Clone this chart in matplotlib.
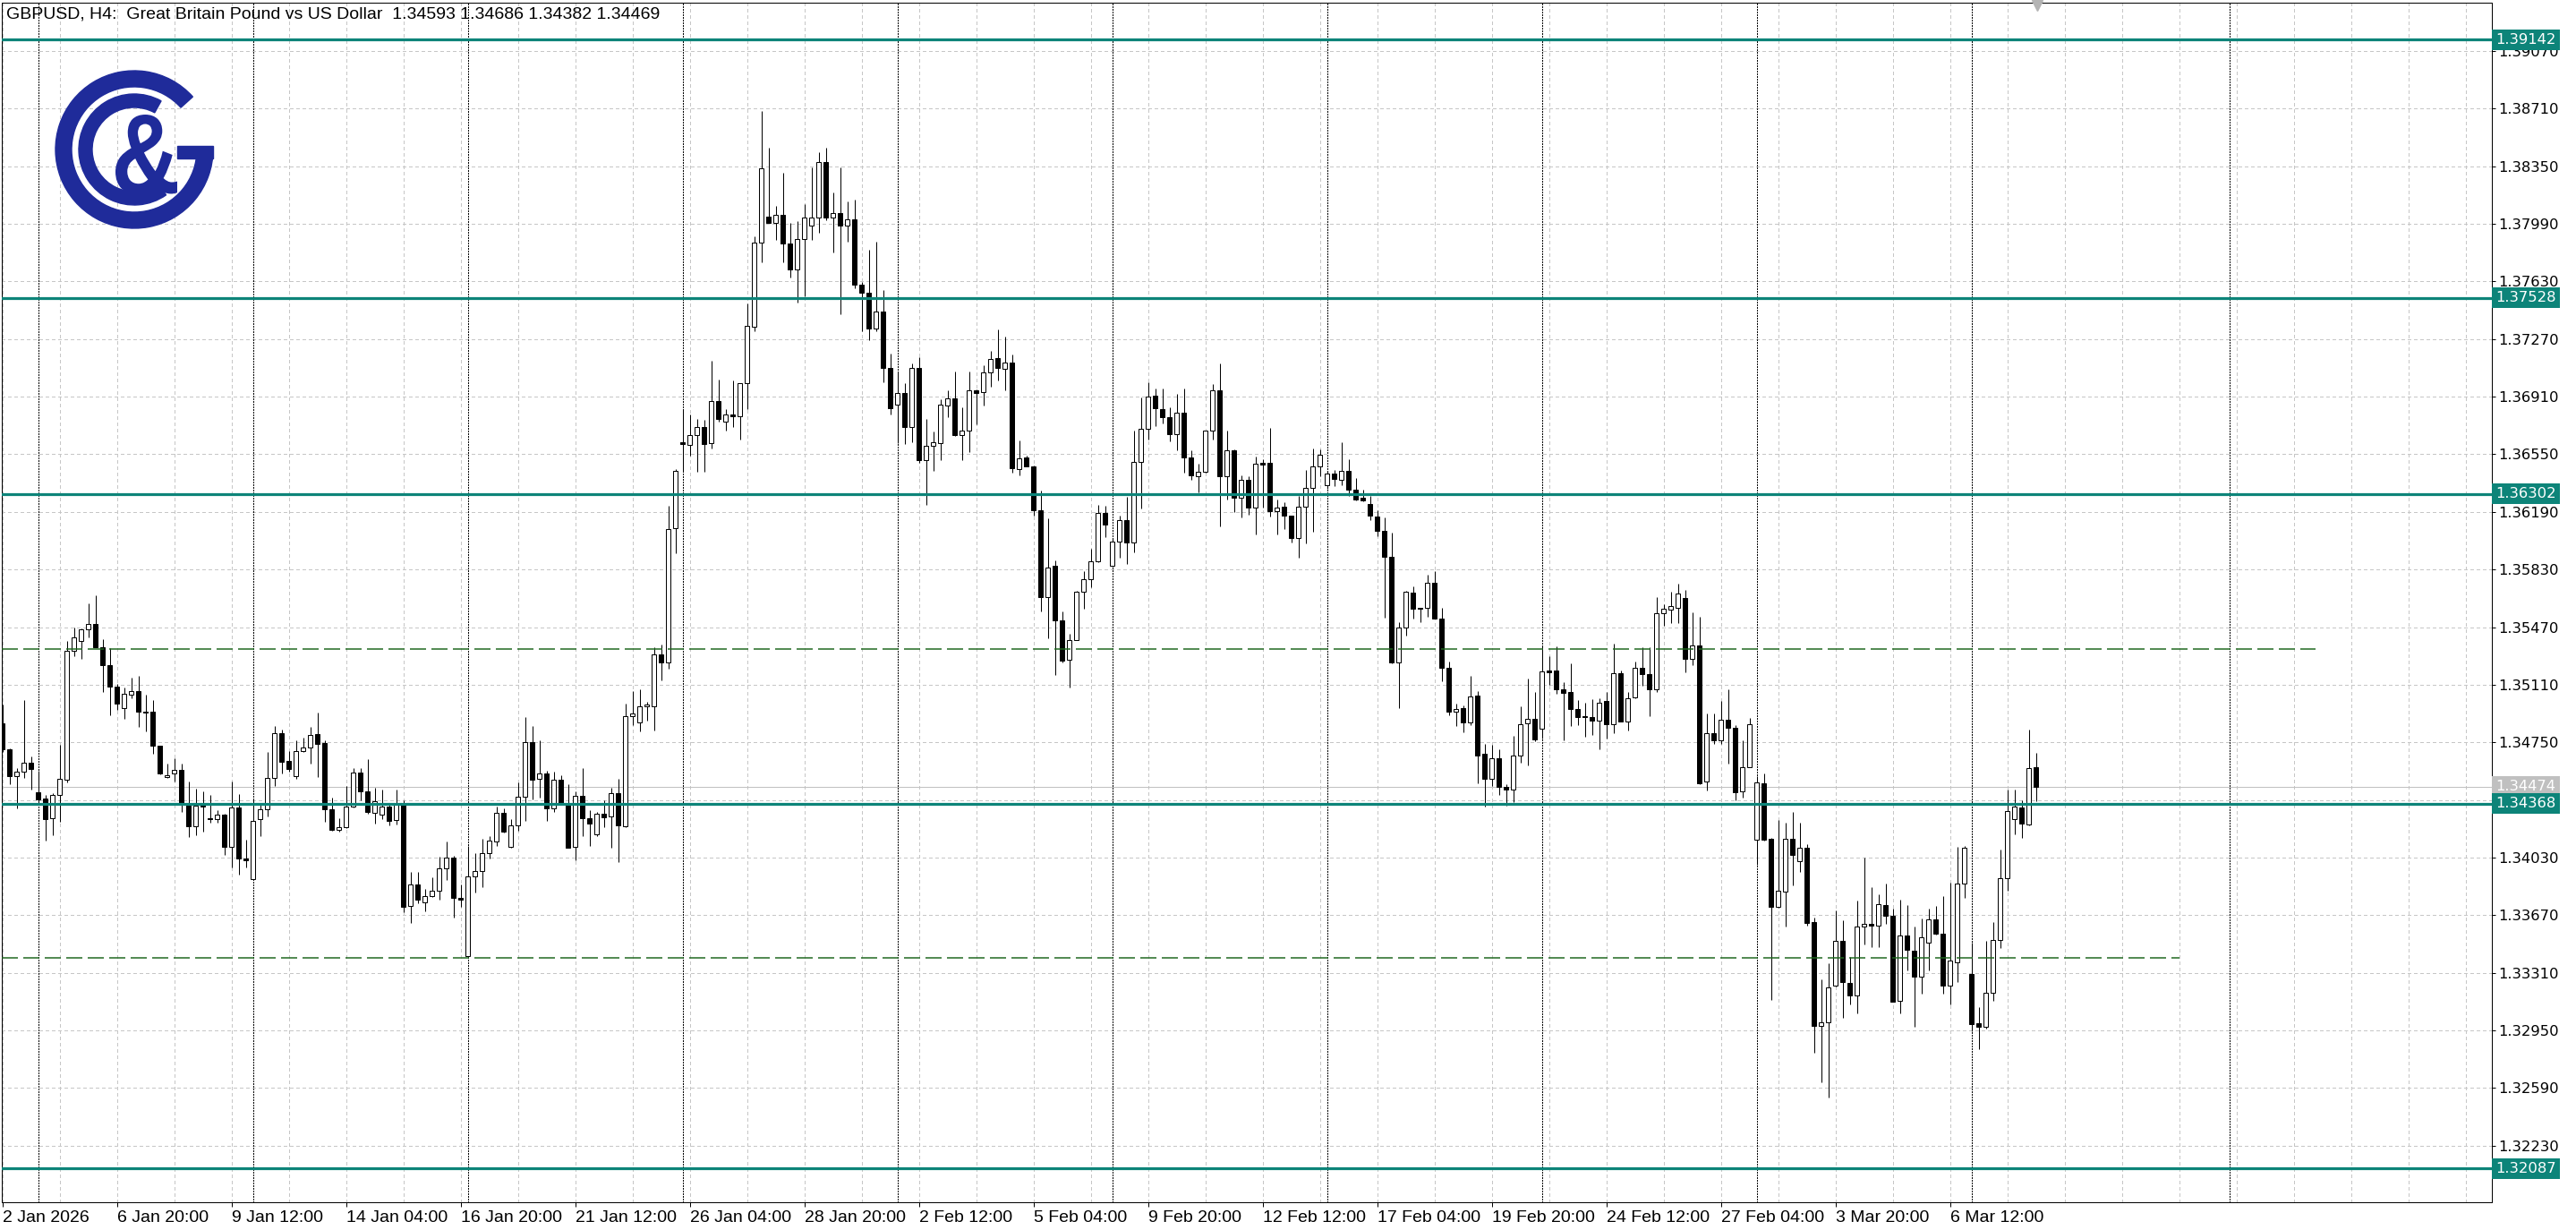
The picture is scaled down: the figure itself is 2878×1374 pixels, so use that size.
import numpy as np
import matplotlib
matplotlib.use("Agg")
import matplotlib.pyplot as plt
from matplotlib.patches import Wedge, Rectangle, PathPatch
from matplotlib.textpath import TextPath
from matplotlib.font_manager import FontProperties
from matplotlib.transforms import Affine2D

plt.rcParams["lines.scale_dashes"] = False

W, H = 2878, 1374

title_text = "GBPUSD, H4:  Great Britain Pound vs US Dollar  1.34593 1.34686 1.34382 1.34469"

# ---- H4 candles, 2 Jan 2026 04:00 ... 10 Mar 2026 12:00 ----
opens = [
 1.34867, 1.34705, 1.34541, 1.34565, 1.34623,
 1.34438, 1.34397, 1.34274, 1.34420, 1.34518, 1.35320, 1.35386, 1.35455, 1.35488, 1.35346,
 1.35231, 1.35097, 1.34964, 1.35050, 1.35072, 1.34942, 1.34940, 1.34727, 1.34535, 1.34554,
 1.34578, 1.34373, 1.34224, 1.34358, 1.34276, 1.34272, 1.34296, 1.34097, 1.34345, 1.34024,
 1.33897, 1.34269, 1.34330, 1.34530, 1.34806, 1.34634, 1.34537, 1.34694, 1.34716, 1.34800,
 1.34746, 1.34330, 1.34203, 1.34218, 1.34347, 1.34561, 1.34443, 1.34308, 1.34299, 1.34351,
 1.34265, 1.34364, 1.33725, 1.33864, 1.33751, 1.33789, 1.33821, 1.33965, 1.34029, 1.33776,
 1.33414, 1.33914, 1.33946, 1.34057, 1.34132, 1.34310, 1.34096, 1.34233, 1.34411, 1.34750,
 1.34522, 1.34557, 1.34336, 1.34518, 1.34368, 1.34096, 1.34415, 1.34278, 1.34175, 1.34304,
 1.34287, 1.34432, 1.34224, 1.34915, 1.34876, 1.34973, 1.34973, 1.35301, 1.35250, 1.36090,
 1.36628, 1.36606, 1.36668, 1.36723, 1.36618, 1.36885, 1.36753, 1.36798, 1.36788, 1.36992,
 1.37349, 1.37872, 1.38034, 1.37997, 1.38044, 1.37870, 1.37703, 1.37895, 1.37977, 1.38032,
 1.38376, 1.38032, 1.38059, 1.37977, 1.38019, 1.37610, 1.37558, 1.37336, 1.37441, 1.37092,
 1.36860, 1.36935, 1.36718, 1.37087, 1.36514, 1.36601, 1.36618, 1.36855, 1.36897, 1.36668,
 1.36700, 1.36952, 1.36937, 1.37062, 1.37152, 1.37082, 1.37125, 1.36457, 1.36528, 1.36476,
 1.36200, 1.35655, 1.35851, 1.35510, 1.35267, 1.35390, 1.35692, 1.35767, 1.35884, 1.36183,
 1.35855, 1.36006, 1.36137, 1.36000, 1.36504, 1.36712, 1.36918, 1.36835, 1.36780, 1.36677,
 1.36808, 1.36532, 1.36410, 1.36438, 1.36696, 1.36951, 1.36414, 1.36575, 1.36276, 1.36392,
 1.36215, 1.36494, 1.36494, 1.36192, 1.36220, 1.36164, 1.36028, 1.36220, 1.36341, 1.36476,
 1.36356, 1.36429, 1.36391, 1.36445, 1.36330, 1.36276, 1.36237, 1.36162, 1.36074, 1.35910,
 1.35248, 1.35468, 1.35686, 1.35591, 1.35588, 1.35746, 1.35524, 1.35216, 1.34944, 1.34965,
 1.34875, 1.35043, 1.34676, 1.34521, 1.34651, 1.34474, 1.34456, 1.34670, 1.34870, 1.34898,
 1.34838, 1.35198, 1.35198, 1.35080, 1.35062, 1.34959, 1.34911, 1.34909, 1.34888, 1.35006,
 1.34866, 1.35183, 1.34881, 1.35030, 1.35216, 1.35179, 1.35080, 1.35556, 1.35580, 1.35590,
 1.35650, 1.35269, 1.35355, 1.34506, 1.34810, 1.34760, 1.34890, 1.34842, 1.34442, 1.34596,
 1.34142, 1.34496, 1.34146, 1.33723, 1.33817, 1.34146, 1.34010, 1.34090, 1.33627, 1.32977,
 1.33003, 1.33227, 1.33511, 1.33247, 1.33171, 1.33597, 1.33617, 1.33603, 1.33731, 1.33667,
 1.33137, 1.33543, 1.33447, 1.33287, 1.33497, 1.33643, 1.33557, 1.33231, 1.33377, 1.33867,
 1.33303, 1.32997, 1.32971, 1.33183, 1.33517, 1.33903, 1.34270, 1.34342, 1.34236, 1.34593,
]
highs = [
 1.34988, 1.34712, 1.34587, 1.35016, 1.34662,
 1.34572, 1.34420, 1.34433, 1.34733, 1.35384, 1.35468, 1.35464, 1.35619, 1.35669, 1.35395,
 1.35339, 1.35115, 1.35091, 1.35156, 1.35166, 1.35048, 1.35013, 1.34731, 1.34615, 1.34649,
 1.34615, 1.34504, 1.34462, 1.34444, 1.34420, 1.34326, 1.34302, 1.34504, 1.34429, 1.34140,
 1.34392, 1.34358, 1.34690, 1.34852, 1.34830, 1.34694, 1.34761, 1.34780, 1.34847, 1.34936,
 1.34765, 1.34407, 1.34278, 1.34475, 1.34587, 1.34587, 1.34643, 1.34465, 1.34454, 1.34358,
 1.34454, 1.34390, 1.33939, 1.33939, 1.33832, 1.33907, 1.34036, 1.34128, 1.34042, 1.33864,
 1.34100, 1.34057, 1.34149, 1.34165, 1.34347, 1.34336, 1.34272, 1.34497, 1.34908, 1.34850,
 1.34765, 1.34572, 1.34565, 1.34544, 1.34486, 1.34443, 1.34587, 1.34325, 1.34315, 1.34390,
 1.34465, 1.34522, 1.34990, 1.35071, 1.35080, 1.35001, 1.35344, 1.35361, 1.36230, 1.36456,
 1.36830, 1.36798, 1.36773, 1.36763, 1.37134, 1.37017, 1.36830, 1.37012, 1.36997, 1.37491,
 1.37910, 1.38695, 1.38468, 1.38102, 1.38308, 1.37997, 1.38007, 1.38114, 1.38343, 1.38438,
 1.38468, 1.38184, 1.38343, 1.38131, 1.38144, 1.37628, 1.37827, 1.37877, 1.37578, 1.37179,
 1.37067, 1.36997, 1.37117, 1.37154, 1.36773, 1.36693, 1.36892, 1.36947, 1.37067, 1.36842,
 1.37067, 1.36955, 1.37104, 1.37196, 1.37329, 1.37283, 1.37171, 1.36634, 1.36541, 1.36481,
 1.36321, 1.36149, 1.35888, 1.35566, 1.35426, 1.35698, 1.35819, 1.35957, 1.36233, 1.36228,
 1.36028, 1.36164, 1.36283, 1.36696, 1.36905, 1.36998, 1.36960, 1.36960, 1.36843, 1.36927,
 1.36960, 1.36574, 1.36489, 1.36699, 1.36988, 1.37119, 1.36696, 1.36578, 1.36420, 1.36414,
 1.36537, 1.36518, 1.36714, 1.36265, 1.36248, 1.36168, 1.36289, 1.36451, 1.36587, 1.36578,
 1.36448, 1.36451, 1.36623, 1.36520, 1.36404, 1.36330, 1.36292, 1.36199, 1.36153, 1.36063,
 1.35500, 1.35696, 1.35727, 1.35593, 1.35795, 1.35821, 1.35589, 1.35257, 1.34993, 1.34978,
 1.35168, 1.35071, 1.34739, 1.34732, 1.34707, 1.34489, 1.34791, 1.34974, 1.35149, 1.35067,
 1.35351, 1.35289, 1.35351, 1.35127, 1.35243, 1.35015, 1.35000, 1.35019, 1.35024, 1.35067,
 1.35369, 1.35198, 1.35067, 1.35252, 1.35347, 1.35347, 1.35658, 1.35612, 1.35690, 1.35740,
 1.35700, 1.35565, 1.35535, 1.34930, 1.34930, 1.35006, 1.35080, 1.34856, 1.34762, 1.34902,
 1.34536, 1.34556, 1.34150, 1.34262, 1.34250, 1.34316, 1.34250, 1.34116, 1.33657, 1.33271,
 1.33371, 1.33697, 1.33637, 1.33407, 1.33763, 1.34031, 1.33847, 1.33801, 1.33867, 1.33711,
 1.33767, 1.33731, 1.33597, 1.33651, 1.33711, 1.33727, 1.33791, 1.33871, 1.34097, 1.34103,
 1.33497, 1.33097, 1.33507, 1.33627, 1.34082, 1.34456, 1.34456, 1.34386, 1.34830, 1.34686,
]
lows = [
 1.34690, 1.34489, 1.34336, 1.34526, 1.34457,
 1.34373, 1.34136, 1.34172, 1.34252, 1.34500, 1.35287, 1.35272, 1.35408, 1.35343, 1.35063,
 1.34918, 1.34951, 1.34899, 1.35026, 1.34849, 1.34817, 1.34681, 1.34550, 1.34526, 1.34504,
 1.34317, 1.34157, 1.34172, 1.34194, 1.34246, 1.34246, 1.34049, 1.33970, 1.33922, 1.33966,
 1.33892, 1.34164, 1.34289, 1.34479, 1.34554, 1.34569, 1.34522, 1.34690, 1.34619, 1.34535,
 1.34252, 1.34198, 1.34193, 1.34214, 1.34342, 1.34389, 1.34304, 1.34244, 1.34272, 1.34229,
 1.34235, 1.33687, 1.33622, 1.33746, 1.33693, 1.33785, 1.33768, 1.33892, 1.33656, 1.33721,
 1.33403, 1.33811, 1.33843, 1.34025, 1.34100, 1.34186, 1.34089, 1.34197, 1.34257, 1.34394,
 1.34407, 1.34257, 1.34315, 1.34357, 1.34089, 1.34014, 1.34165, 1.34100, 1.34165, 1.34222,
 1.34094, 1.34004, 1.34218, 1.34857, 1.34818, 1.34883, 1.34823, 1.35140, 1.35210, 1.35933,
 1.36444, 1.36543, 1.36439, 1.36439, 1.36588, 1.36755, 1.36698, 1.36723, 1.36643, 1.36830,
 1.37321, 1.37747, 1.37994, 1.37890, 1.37752, 1.37653, 1.37498, 1.37536, 1.37890, 1.37935,
 1.38010, 1.37810, 1.37428, 1.37877, 1.37590, 1.37321, 1.37261, 1.37321, 1.37000, 1.36798,
 1.36618, 1.36613, 1.36623, 1.36494, 1.36236, 1.36444, 1.36514, 1.36780, 1.36663, 1.36514,
 1.36563, 1.36738, 1.36855, 1.36972, 1.37012, 1.36947, 1.36433, 1.36420, 1.36472, 1.36164,
 1.35566, 1.35403, 1.35170, 1.35250, 1.35090, 1.35388, 1.35586, 1.35717, 1.35873, 1.36034,
 1.35847, 1.35903, 1.35866, 1.35935, 1.36211, 1.36644, 1.36724, 1.36742, 1.36630, 1.36574,
 1.36435, 1.36388, 1.36313, 1.36435, 1.36644, 1.36097, 1.36265, 1.36190, 1.36153, 1.36172,
 1.36047, 1.36215, 1.36159, 1.36047, 1.36080, 1.36000, 1.35903, 1.35991, 1.36065, 1.36410,
 1.36336, 1.36354, 1.36358, 1.36292, 1.36261, 1.36255, 1.36138, 1.36037, 1.35528, 1.35244,
 1.34963, 1.35416, 1.35522, 1.35500, 1.35537, 1.35522, 1.35131, 1.34918, 1.34851, 1.34814,
 1.34857, 1.34493, 1.34347, 1.34478, 1.34422, 1.34353, 1.34377, 1.34624, 1.34608, 1.34758,
 1.34773, 1.35108, 1.35056, 1.34763, 1.34851, 1.34857, 1.34787, 1.34795, 1.34707, 1.34773,
 1.34806, 1.34879, 1.34825, 1.35024, 1.35105, 1.34912, 1.35067, 1.35481, 1.35495, 1.35495,
 1.35185, 1.35235, 1.34486, 1.34450, 1.34742, 1.34742, 1.34616, 1.34390, 1.34406, 1.34592,
 1.33987, 1.34138, 1.33143, 1.33717, 1.33597, 1.33857, 1.33942, 1.33607, 1.32812, 1.32624,
 1.32528, 1.33223, 1.33031, 1.33111, 1.33057, 1.33487, 1.33471, 1.33471, 1.33617, 1.33127,
 1.33057, 1.33323, 1.32971, 1.33177, 1.33323, 1.33551, 1.33177, 1.33111, 1.33251, 1.33777,
 1.32947, 1.32832, 1.32963, 1.33137, 1.33463, 1.33823, 1.34176, 1.34150, 1.34230, 1.34382,
]
closes = [
 1.34709, 1.34541, 1.34567, 1.34623, 1.34582,
 1.34395, 1.34272, 1.34420, 1.34522, 1.35320, 1.35406, 1.35455, 1.35488, 1.35346, 1.35231,
 1.35097, 1.34992, 1.35054, 1.35072, 1.34940, 1.34938, 1.34727, 1.34554, 1.34546, 1.34578,
 1.34369, 1.34224, 1.34354, 1.34351, 1.34272, 1.34296, 1.34097, 1.34345, 1.34022, 1.34011,
 1.34261, 1.34330, 1.34530, 1.34809, 1.34630, 1.34584, 1.34694, 1.34718, 1.34798, 1.34742,
 1.34330, 1.34201, 1.34222, 1.34351, 1.34561, 1.34443, 1.34315, 1.34383, 1.34351, 1.34261,
 1.34368, 1.33721, 1.33864, 1.33768, 1.33789, 1.33821, 1.33965, 1.34029, 1.33779, 1.33764,
 1.33914, 1.33944, 1.34057, 1.34137, 1.34310, 1.34192, 1.34233, 1.34411, 1.34750, 1.34518,
 1.34557, 1.34336, 1.34518, 1.34368, 1.34094, 1.34415, 1.34276, 1.34244, 1.34304, 1.34282,
 1.34432, 1.34229, 1.34915, 1.34930, 1.34973, 1.34986, 1.35297, 1.35248, 1.36085, 1.36444,
 1.36613, 1.36668, 1.36718, 1.36613, 1.36880, 1.36768, 1.36798, 1.36788, 1.36992, 1.37354,
 1.37872, 1.38338, 1.37997, 1.38044, 1.37870, 1.37703, 1.37895, 1.38027, 1.38032, 1.38376,
 1.38027, 1.38059, 1.37977, 1.38019, 1.37610, 1.37558, 1.37336, 1.37441, 1.37092, 1.36837,
 1.36935, 1.36718, 1.37092, 1.36514, 1.36601, 1.36626, 1.36862, 1.36897, 1.36668, 1.36700,
 1.36950, 1.36935, 1.37062, 1.37147, 1.37087, 1.37125, 1.36463, 1.36522, 1.36476, 1.36200,
 1.35655, 1.35841, 1.35510, 1.35263, 1.35390, 1.35689, 1.35767, 1.35884, 1.36183, 1.36108,
 1.36006, 1.36137, 1.36000, 1.36504, 1.36712, 1.36908, 1.36839, 1.36780, 1.36677, 1.36808,
 1.36532, 1.36420, 1.36438, 1.36696, 1.36951, 1.36414, 1.36573, 1.36276, 1.36392, 1.36215,
 1.36489, 1.36487, 1.36192, 1.36215, 1.36164, 1.36028, 1.36220, 1.36341, 1.36476, 1.36545,
 1.36429, 1.36395, 1.36445, 1.36330, 1.36268, 1.36261, 1.36168, 1.36074, 1.35910, 1.35248,
 1.35468, 1.35690, 1.35584, 1.35586, 1.35746, 1.35524, 1.35216, 1.34944, 1.34959, 1.34875,
 1.35037, 1.34670, 1.34521, 1.34651, 1.34474, 1.34456, 1.34670, 1.34866, 1.34898, 1.34767,
 1.35192, 1.35190, 1.35080, 1.35058, 1.34959, 1.34909, 1.34907, 1.34888, 1.35000, 1.34866,
 1.35183, 1.34881, 1.35024, 1.35216, 1.35179, 1.35080, 1.35556, 1.35584, 1.35600, 1.35680,
 1.35269, 1.35355, 1.34496, 1.34810, 1.34762, 1.34890, 1.34842, 1.34436, 1.34592, 1.34862,
 1.34502, 1.34142, 1.33723, 1.33821, 1.34146, 1.34046, 1.34090, 1.33623, 1.32977, 1.33003,
 1.33221, 1.33507, 1.33251, 1.33171, 1.33597, 1.33617, 1.33603, 1.33737, 1.33667, 1.33131,
 1.33543, 1.33451, 1.33287, 1.33531, 1.33643, 1.33557, 1.33231, 1.33387, 1.33867, 1.34091,
 1.32991, 1.32971, 1.33183, 1.33517, 1.33903, 1.34322, 1.34346, 1.34242, 1.34590, 1.34469,
]

x_labels = ["2 Jan 2026", "6 Jan 20:00", "9 Jan 12:00", "14 Jan 04:00", "16 Jan 20:00",
            "21 Jan 12:00", "26 Jan 04:00", "28 Jan 20:00", "2 Feb 12:00", "5 Feb 04:00",
            "9 Feb 20:00", "12 Feb 12:00", "17 Feb 04:00", "19 Feb 20:00", "24 Feb 12:00",
            "27 Feb 04:00", "3 Mar 20:00", "6 Mar 12:00"]
label_step = 16          # bars between time labels
grid_step = 8            # bars between vertical grid lines
week_start_bars = [5, 35, 65, 95, 125, 155, 185, 215, 245, 275, 311]   # period separators
view_left, view_right = -0.09, 347.66   # visible bar slots incl. right shift

price_ticks = [1.32230, 1.32590, 1.32950, 1.33310, 1.33670, 1.34030, 1.34390, 1.34750,
               1.35110, 1.35470, 1.35830, 1.36190, 1.36550, 1.36910, 1.37270, 1.37630,
               1.37990, 1.38350, 1.38710, 1.39070]
price_min, price_max = 1.31876, 1.39372

teal_levels = [1.39142, 1.37528, 1.36302, 1.34368, 1.32087]
dashed_levels = [1.35333, 1.33403]
dashed_end_bar = [323, 304]
bid_price = 1.34474

# ---- figure ----
px = 0.72  # points per pixel at dpi 100
fig = plt.figure(figsize=(W / 100, H / 100), dpi=100)
fig.patch.set_facecolor("white")
ax = fig.add_axes([2 / W, 31 / H, 2782 / W, 1340 / H])
ax.set_facecolor("white")
ax.set_xlim(view_left, view_right)
ax.set_ylim(price_min, price_max)

sans = ["Liberation Sans", "DejaVu Sans"]
TEAL = "#0d8479"
GRID = "#c6c6c6"

# grid
for p in price_ticks:
    ax.axhline(p, color=GRID, lw=1 * px, dashes=(3 * px, 3 * px), zorder=1, antialiased=False)
for gx in range(0, int(view_right) + 1, grid_step):
    ax.axvline(gx, color=GRID, lw=1 * px, dashes=(3 * px, 3 * px), zorder=1, antialiased=False)
for sx in week_start_bars:
    ax.axvline(sx, color="black", lw=1 * px, dashes=(2 * px, 2 * px), zorder=1.5, antialiased=False)

# candles
o = np.array(opens); h = np.array(highs); l = np.array(lows); c = np.array(closes)
xs = np.arange(len(o))
up = c >= o
bot = np.minimum(o, c)
hgt = np.maximum(np.abs(c - o), 0.00003)
ax.vlines(xs, l, h, color="black", lw=1 * px, zorder=3)
ax.bar(xs[up], hgt[up], bottom=bot[up], width=0.6, facecolor="white",
       edgecolor="black", linewidth=1 * px, zorder=4)
ax.bar(xs[~up], hgt[~up], bottom=bot[~up], width=0.6, facecolor="black",
       edgecolor="black", linewidth=1 * px, zorder=4)

# levels
ax.axhline(bid_price, color="#c0c0c0", lw=1 * px, zorder=2)
for lv in teal_levels:
    ax.axhline(lv, color=TEAL, lw=3.2 * px, zorder=5)
for lv, xe in zip(dashed_levels, dashed_end_bar):
    ax.plot([view_left, xe], [lv, lv], color="#1d661d", lw=1.5 * px,
            dashes=(18 * px, 6 * px), zorder=5)

# axes styling
for s in ax.spines.values():
    s.set_color("black")
    s.set_linewidth(1 * px)
ax.yaxis.tick_right()
ax.set_yticks(price_ticks)
ax.set_yticklabels([f"{p:.5f}" for p in price_ticks])
ax.tick_params(axis="y", direction="out", length=4 * px, width=1 * px, pad=2,
               labelsize=11.8, colors="black")
label_pos = [i * label_step for i in range(len(x_labels))]
ax.set_xticks(label_pos)
ax.set_xticklabels(x_labels, ha="left", family=sans, fontsize=14)
ax.tick_params(axis="x", direction="out", length=5 * px, width=1 * px, pad=3)

# right-side price tags
ax.annotate(f"{bid_price:.5f}", xy=(1, bid_price), xycoords=("axes fraction", "data"),
            xytext=(3.2, 0), textcoords="offset points", ha="left", va="center",
            fontsize=11.8, color="white", annotation_clip=False, zorder=6,
            bbox=dict(boxstyle="square,pad=0.25", fc="#c0c0c0", ec="none"))
for lv in teal_levels:
    ax.annotate(f"{lv:.5f}", xy=(1, lv), xycoords=("axes fraction", "data"),
                xytext=(3.2, 0), textcoords="offset points", ha="left", va="center",
                fontsize=11.8, color="white", annotation_clip=False, zorder=7,
                bbox=dict(boxstyle="square,pad=0.25", fc=TEAL, ec="none"))

# title
fig.text(7 / W, 1 - 16 / H, title_text, ha="left", va="center", family=sans,
         fontsize=14, color="black")

# overlay for logo and shift marker (pixel coordinates)
ov = fig.add_axes([0, 0, 1, 1], facecolor="none")
ov.set_xlim(0, W); ov.set_ylim(0, H); ov.axis("off")
BLUE = "#1f2b9a"
cx, cy = 150, H - 167
ov.add_patch(Wedge((cx, cy), 88, 42, 360, width=18, color=BLUE))
ov.add_patch(Rectangle((198, H - 177), 40, 14, color=BLUE))
ov.add_patch(Wedge((cx, cy), 62, 61, 305, width=15, color=BLUE))
amp = TextPath((0, 0), "&", size=1, prop=FontProperties(family=sans, weight="bold"))
ext = amp.get_extents()
tr = (Affine2D().translate(-ext.x0, -ext.y0)
      .scale(69 / ext.width, 89 / ext.height)
      .translate(129, H - 217))
ov.add_patch(PathPatch(tr.transform_path(amp), color=BLUE, lw=0))
ov.plot([2276], [H - 6], marker="v", markersize=8, color="#b4b4b4", clip_on=False)

fig.savefig("out.png", dpi=100, facecolor="white")
